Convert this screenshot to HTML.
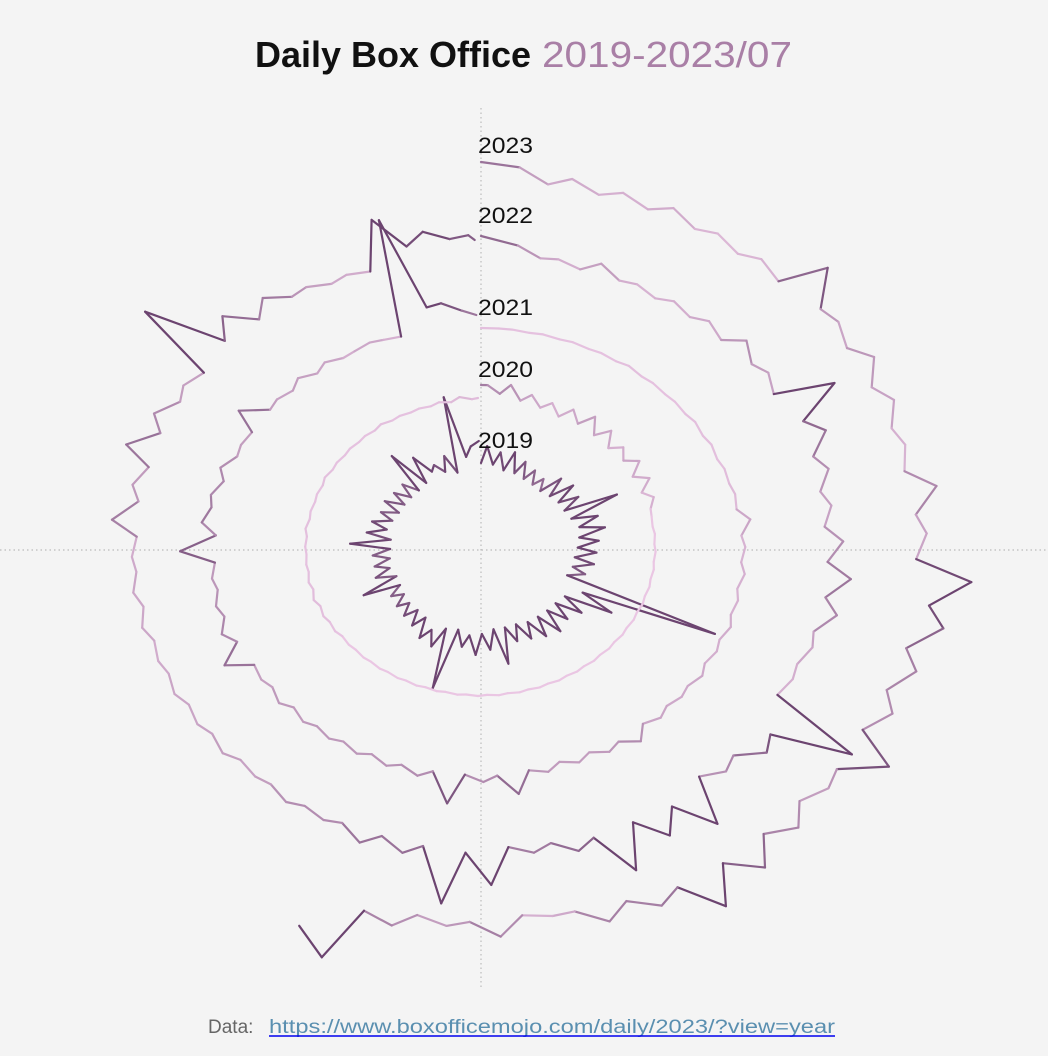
<!DOCTYPE html>
<html><head><meta charset="utf-8">
<style>
html,body{margin:0;padding:0;background:#f4f4f4;}
svg{display:block;font-family:"Liberation Sans",sans-serif;}
</style></head>
<body>
<svg id="chart" width="1048" height="1056" viewBox="0 0 1048 1056">
  <rect width="1048" height="1056" fill="#f4f4f4"/>
  <text x="255" y="67" font-size="36" font-weight="bold" fill="#111" textLength="276" lengthAdjust="spacingAndGlyphs">Daily Box Office</text>
  <text x="542" y="67" font-size="36" fill="#a97fa6" textLength="250" lengthAdjust="spacingAndGlyphs">2019-2023/07</text>
  <line x1="0" y1="550" x2="1048" y2="550" stroke="#bbb" stroke-width="1.2" stroke-dasharray="1.5,3"/>
  <line x1="481" y1="108" x2="481" y2="990" stroke="#bbb" stroke-width="1.2" stroke-dasharray="1.5,3"/>
  <g id="rings"></g>
  <g id="labels"></g>
  <text x="208" y="1033" font-size="19" fill="#666">Data:</text>
  <text x="269" y="1033" font-size="19" fill="#5a8fb0" textLength="566" lengthAdjust="spacingAndGlyphs">https://www.boxofficemojo.com/daily/2023/?view=year</text>
  <line x1="269" y1="1036" x2="835" y2="1036" stroke="#0000ee" stroke-width="1.5"/>
</svg>
<script>
const years = ["2019","2020","2021","2022","2023"];
const firstFriday = [3, 2, 0, 6, 5];
const yearDays = [365, 366, 365, 365, 365];
const endDay = [364, 365, 364, 364, 205];
const startVals = [23, 16, 2, 24, 20];
const endVals = [45, 3, 15, 20, 42];
const baseRadius = [62, 147, 218, 288, 366];

const peaks2019 = [40,35,38,32,28,25,35,38,35,65,42,45,38,36,35,30,154,66,45,40,45,42,38,36,56,40,45,38,84,45,42,35,32,30,28,48,32,30,30,49,36,34,30,32,30,30,57,45,30,35,92,40];
const troughs2019 = [22,18,18,16,15,14,16,18,18,20,24,22,20,18,18,16,35,24,22,22,22,22,20,20,20,24,26,22,24,30,22,20,20,18,16,15,18,16,15,15,20,18,16,16,16,16,18,25,20,16,30,40];
const peaks2020 = [16,18,12,10,12,16,14,10,13,12,8,1,1,1,1,1,1,1,1,1,1,1,1,1,1,1,1,1,1,1,1,1,1,1,2,3,4,3,2,2,3,2,2,3,2,2,2,3,2,2,3,5];
const troughs2020 = [8,4,2,0,2,1,0,2,0,0,2,0,0,0,0,0,0,0,0,0,0,0,0,0,0,0,0,0,0,0,0,0,0,0,1,1,1,1,1,1,1,1,1,1,1,1,1,1,1,1,1,2];
const peaks2021 = [3,2,2,2,2,3,2,2,3,3,3,4,12,6,7,6,8,7,9,8,10,18,13,12,13,30,16,39,16,14,13,12,12,13,10,29,18,14,12,37,20,17,17,10,29,10,12,10,6,6,121,29];
const troughs2021 = [2,1,1,1,1,1,1,1,1,1,2,2,3,3,3,4,4,4,5,5,5,8,6,6,8,10,9,9,9,8,8,8,7,7,7,9,10,9,8,7,14,10,8,8,8,6,5,5,8,4,27,20];
const peaks2022 = [16,8,14,7,8,10,18,12,54,27,17,12,19,27,21,10,7,88,29,17,53,41,60,26,20,49,69,24,24,15,15,10,12,10,10,8,10,10,8,26,14,30,20,12,82,31,23,12,8,53,32,25];
const troughs2022 = [6,3,4,2,3,3,6,4,13,8,5,4,6,8,6,4,3,20,10,6,17,15,17,13,12,17,14,12,11,10,8,6,6,5,5,4,4,5,4,6,5,7,6,5,12,8,10,5,4,20,22,18];
const peaks2023 = [16,11,9,11,7,8,40,12,18,14,8,25,12,51,34,23,20,43,14,22,34,48,23,23,7,23,13,19,65,42];
const troughs2023 = [2,1,1,1,0,1,8,3,2,2,1,4,3,18,8,6,5,8,4,7,10,12,8,6,3,8,5,10,25,15];

const peaksAll = [peaks2019, peaks2020, peaks2021, peaks2022, peaks2023];
const troughsAll = [troughs2019, troughs2020, troughs2021, troughs2022, troughs2023];

const CX = 481, CY = 548, SX = 1.18;
function radius(yi, v){ return baseRadius[yi] + v; }
function angle(yi, day){ return day / yearDays[yi] * 2 * Math.PI; }
function px(yi, day, v){ return CX + SX * radius(yi, v) * Math.sin(angle(yi, day)); }
function py(yi, day, v){ return CY - radius(yi, v) * Math.cos(angle(yi, day)); }
function color(v){
  const t = Math.max(0, Math.min(1, v / 28));
  const a = [236,200,229], b = [108,68,112];
  const c = a.map((x,i)=>Math.round(x + (b[i]-x)*t));
  return `rgb(${c[0]},${c[1]},${c[2]})`;
}

const NS = "http://www.w3.org/2000/svg";
const ringsG = document.getElementById("rings");
years.forEach((yr, yi) => {
  const pts = [[0, startVals[yi]]];
  const pk = peaksAll[yi], tr = troughsAll[yi];
  for (let w = 0; w < pk.length; w++) {
    const d1 = firstFriday[yi] + 7*w;
    const d2 = d1 + 4;
    if (d1 > 0 && d1 < endDay[yi]) pts.push([d1, pk[w]]);
    if (d2 < endDay[yi]) pts.push([d2, tr[w]]);
  }
  pts.push([endDay[yi], endVals[yi]]);
  const g = document.createElementNS(NS, "g");
  
  
  for (let i = 1; i < pts.length; i++) {
    const [da, va] = pts[i-1], [db, vb] = pts[i];
    const ln = document.createElementNS(NS, "line");
    
    
    ln.setAttribute("x1", px(yi, da, va).toFixed(1));
    ln.setAttribute("y1", py(yi, da, va).toFixed(1));
    ln.setAttribute("x2", px(yi, db, vb).toFixed(1));
    ln.setAttribute("y2", py(yi, db, vb).toFixed(1));
    ln.setAttribute("stroke", color((va + vb) / 2));
    ln.setAttribute("stroke-width", "2.2");
    ln.setAttribute("stroke-linecap", "round");
    g.appendChild(ln);
  }
  ringsG.appendChild(g);
});

const labelY = [448, 377, 315, 223, 153];
const labelsG = document.getElementById("labels");
years.forEach((yr, yi) => {
  const t = document.createElementNS(NS, "text");
  
  
  t.setAttribute("x", 478);
  t.setAttribute("y", labelY[yi]);
  t.setAttribute("font-size", "22");
  t.setAttribute("fill", "#111");
  t.setAttribute("textLength", "55");
  t.setAttribute("lengthAdjust", "spacingAndGlyphs");
  t.textContent = yr;
  labelsG.appendChild(t);
});
</script>
</body></html>
